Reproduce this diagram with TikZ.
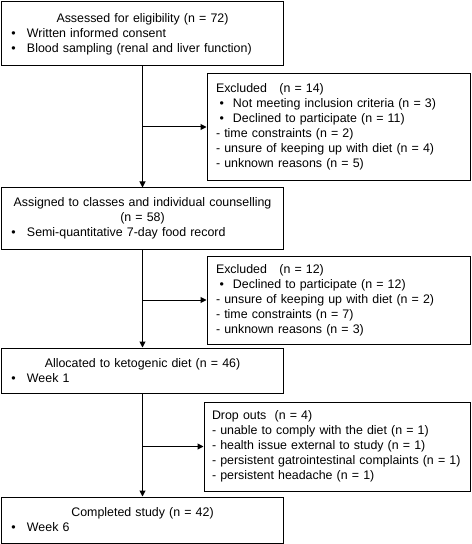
\documentclass[tikz,border=0pt]{standalone}
\usepackage{fontspec}
\setmainfont{Liberation Sans}
\usetikzlibrary{arrows.meta,positioning}
\tikzstyle{MAINBOX} = [rectangle, draw, line width=1bp, text width=262bp, inner xsep=9.5bp, inner ysep=0pt, align=left, font=\fontsize{12.4bp}{15bp}\selectfont]
\tikzstyle{SIDEBOX} = [rectangle, draw, line width=1bp, text width=245bp, inner xsep=9bp, inner ysep=0pt, align=left, font=\fontsize{12.4bp}{15bp}\selectfont]
\tikzstyle{ARROW} = [draw, line width=1bp, -{Triangle[length=6bp,width=6bp]}]
\newcommand{\boxhead}[1]{\makebox[\hsize]{#1}}
\newcommand{\mainbul}{\makebox[15.5bp][l]{\textbullet}}
\newcommand{\sidebul}{\hspace*{3.5bp}\makebox[13.5bp][l]{\textbullet}}
\begin{document}
\begin{tikzpicture}[x=1bp, y=-1bp]
\useasboundingbox (0,0) rectangle (472,544);
% Place node
\node [MAINBOX, minimum height=64bp] (ASSESSED) at (142.5,34) {\boxhead{Assessed for eligibility (n = 72)}\\ \mainbul Written informed consent\\ \mainbul Blood sampling (renal and liver function)};
\node [MAINBOX, minimum height=61bp] (ASSIGNED) at (142.5,218.5) {\boxhead{Assigned to classes and individual counselling}\\ \boxhead{(n = 58)}\\ \mainbul Semi-quantitative 7-day food record};
\node [MAINBOX, minimum height=45bp] (ALLOCATED) at (142.5,370.5) {\boxhead{Allocated to ketogenic diet (n = 46)}\\ \mainbul Week 1};
\node [MAINBOX, minimum height=46bp] (COMPLETED) at (142.5,520) {\boxhead{Completed study (n = 42)}\\ \mainbul Week 6};
%
\node [SIDEBOX, minimum height=106bp] (EXCL_1) at (338.5,127) {Excluded~~~(n = 14)\\ \sidebul Not meeting inclusion criteria (n = 3)\\ \sidebul Declined to participate (n = 11)\\ - time constraints (n = 2)\\ - unsure of keeping up with diet (n = 4)\\ - unknown reasons (n = 5)};
\node [SIDEBOX, minimum height=88bp] (EXCL_2) at (338.5,300) {Excluded~~~(n = 12)\\ \sidebul Declined to participate (n = 12)\\ - unsure of keeping up with diet (n = 2)\\ - time constraints (n = 7)\\ - unknown reasons (n = 3)};
\node [SIDEBOX, text width=250bp, inner xsep=8bp, minimum height=89bp] (DROPOUT) at (337,446.5) {Drop outs~~(n = 4)\\ - unable to comply with the diet (n = 1)\\ - health issue external to study (n = 1)\\ - persistent gatrointestinal complaints (n = 1)\\ - persistent headache (n = 1)};
% LINES and ARROWS
\path [ARROW] (ASSESSED) -- (ASSIGNED);
\path [ARROW] (ASSIGNED) -- (ALLOCATED);
\path [ARROW] (ALLOCATED) -- (COMPLETED);
\path [ARROW] (ASSESSED |- EXCL_1.west) -- (EXCL_1.west);
\path [ARROW] (ASSIGNED |- EXCL_2.west) -- (EXCL_2.west);
\path [ARROW] (ALLOCATED |- DROPOUT.west) -- (DROPOUT.west);
\end{tikzpicture}
\end{document}
